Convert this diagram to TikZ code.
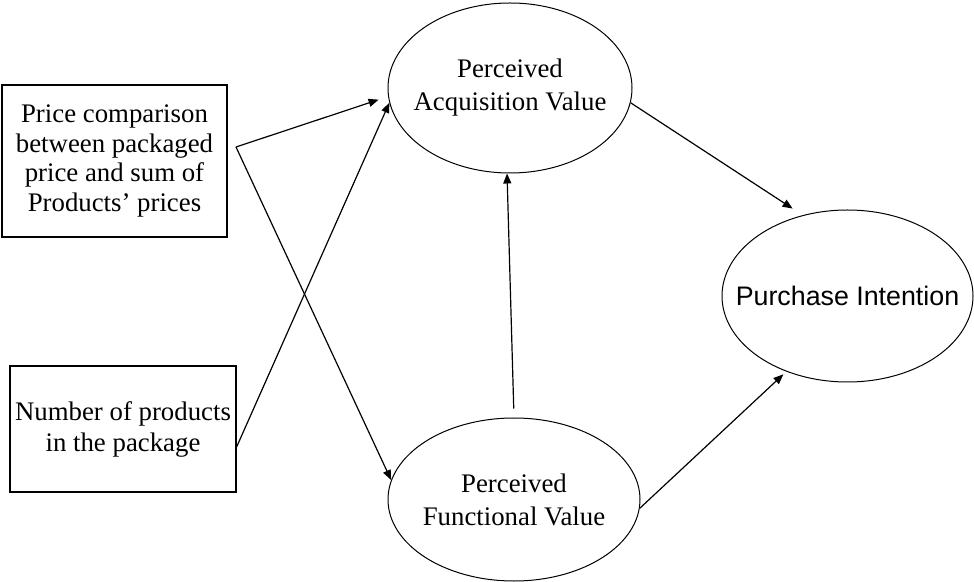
\documentclass[tikz,border=0pt]{standalone}
\usepackage{fontspec}
\setmainfont{Liberation Serif}
\newfontfamily\arialfont{Liberation Sans}
\usetikzlibrary{shapes.geometric,arrows.meta}

\tikzset{
  factor/.style={draw, line width=0.6pt, rectangle, inner sep=0pt, align=center,
    font=\fontsize{13.4}{14.7}\selectfont},
  construct/.style={draw, line width=0.5pt, ellipse, inner sep=-40pt, align=center,
    font=\fontsize{13.4}{16.5}\selectfont},
  link/.style={line width=0.6pt, -{Triangle[length=5pt,width=4pt]}}
}

\begin{document}
\begin{tikzpicture}[x=0.5pt,y=-0.5pt]
\useasboundingbox (0,0) rectangle (974,582);

% antecedents
\node[factor, minimum width=112.5pt, minimum height=76pt] (price) at (114.5,161)
  {Price comparison\\between packaged\\price and sum of\\Products' prices};
\node[factor, minimum width=113pt, minimum height=63pt,
      font=\fontsize{13.4}{15.5}\selectfont] (number) at (123,429)
  {Number of products\\in the package};

% perceived values and outcome
\node[construct, minimum width=122pt, minimum height=85pt] (pav) at (510,88)
  {Perceived\\Acquisition Value};
\node[construct, minimum width=126pt, minimum height=81.5pt] (pfv) at (514,499.5)
  {Perceived\\Functional Value};
\node[construct, minimum width=125.5pt, minimum height=86pt,
      font=\arialfont\fontsize{13.4}{16}\selectfont] (pi) at (847.5,296)
  {Purchase Intention};

% fork point of the price-comparison paths
\coordinate (fork) at (236,147);

% paths
\draw[link, shorten >=5pt] (fork) -- (pav.184);
\draw[link] (fork) -- (pfv.171);
\draw[link] (number.351) -- (pav.187);
\draw[link, shorten <=4.5pt] (pfv.90) -- (pav.268);
\draw[link, shorten >=6pt] (pav.353) -- (pi.119);
\draw[link, shorten >=2pt] (pfv.356) -- (pi.231);
\end{tikzpicture}
\end{document}
